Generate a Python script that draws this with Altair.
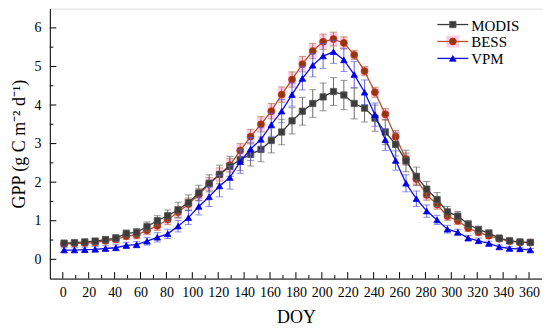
import altair as alt
import pandas as pd

doy = [1, 9, 17, 25, 33, 41, 49, 57, 65, 73, 81, 89, 97, 105, 113, 121, 129, 137, 145, 153,
       161, 169, 177, 185, 193, 201, 209, 217, 225, 233, 241, 249, 257, 265, 273, 281, 289,
       297, 305, 313, 321, 329, 337, 345, 353, 361]

modis = [0.42, 0.43, 0.45, 0.47, 0.51, 0.55, 0.67, 0.70, 0.85, 1.00, 1.13, 1.28, 1.47, 1.72,
         1.97, 2.20, 2.41, 2.58, 2.72, 2.85, 3.08, 3.30, 3.59, 3.84, 4.04, 4.21, 4.35, 4.26,
         4.04, 3.92, 3.66, 3.30, 2.98, 2.55, 2.15, 1.82, 1.55, 1.23, 1.12, 0.91, 0.77, 0.68,
         0.55, 0.48, 0.45, 0.44]
modis_err = [0.06, 0.06, 0.07, 0.08, 0.08, 0.09, 0.09, 0.10, 0.12, 0.13, 0.15, 0.20, 0.20, 0.20,
             0.22, 0.24, 0.26, 0.28, 0.30, 0.32, 0.32, 0.33, 0.34, 0.36, 0.36, 0.36, 0.36, 0.38,
             0.40, 0.36, 0.34, 0.32, 0.30, 0.28, 0.24, 0.20, 0.18, 0.14, 0.12, 0.10, 0.09, 0.08,
             0.07, 0.06, 0.05, 0.05]

bess = [0.40, 0.41, 0.42, 0.44, 0.48, 0.52, 0.60, 0.63, 0.75, 0.87, 1.03, 1.22, 1.43, 1.68,
        1.95, 2.20, 2.44, 2.82, 3.18, 3.50, 3.84, 4.27, 4.66, 5.06, 5.40, 5.64, 5.71, 5.61,
        5.30, 4.88, 4.33, 3.76, 3.18, 2.60, 2.08, 1.67, 1.42, 1.12, 1.00, 0.81, 0.70, 0.61,
        0.53, 0.47, 0.44, 0.43]
bess_err = [0.06, 0.06, 0.07, 0.08, 0.08, 0.09, 0.09, 0.10, 0.11, 0.12, 0.13, 0.15, 0.16, 0.16,
            0.17, 0.17, 0.18, 0.18, 0.19, 0.20, 0.20, 0.20, 0.20, 0.20, 0.20, 0.20, 0.18, 0.16,
            0.12, 0.12, 0.13, 0.15, 0.16, 0.16, 0.15, 0.14, 0.12, 0.11, 0.10, 0.09, 0.08, 0.07,
            0.06, 0.06, 0.05, 0.05]

vpm = [0.24, 0.24, 0.25, 0.26, 0.28, 0.30, 0.36, 0.38, 0.47, 0.57, 0.66, 0.86, 1.08, 1.37,
       1.62, 1.90, 2.12, 2.53, 2.86, 3.11, 3.49, 3.84, 4.27, 4.69, 5.03, 5.27, 5.38, 5.17,
       4.79, 4.33, 3.75, 3.10, 2.56, 1.97, 1.57, 1.25, 1.02, 0.78, 0.70, 0.55, 0.48, 0.41,
       0.32, 0.28, 0.27, 0.24]
vpm_err = [0.06, 0.06, 0.07, 0.07, 0.07, 0.08, 0.08, 0.08, 0.10, 0.12, 0.12, 0.15, 0.18, 0.22,
           0.25, 0.28, 0.30, 0.30, 0.30, 0.30, 0.30, 0.30, 0.30, 0.30, 0.30, 0.32, 0.30, 0.30,
           0.34, 0.32, 0.30, 0.28, 0.25, 0.22, 0.20, 0.16, 0.12, 0.10, 0.08, 0.07, 0.07, 0.06,
           0.05, 0.05, 0.04, 0.04]

x_major = [0, 20, 40, 60, 80, 100, 120, 140, 160, 180, 200, 220, 240, 260, 280, 300, 320, 340, 360]
x_minor = [10, 30, 50, 70, 90, 110, 130, 150, 170, 190, 210, 230, 250, 270, 290, 310, 330, 350]
y_major = [0, 1, 2, 3, 4, 5, 6]
y_minor = [0.5, 1.5, 2.5, 3.5, 4.5, 5.5]

W, H = 494, 271
FONT = "Liberation Serif"
YTITLE = "GPP (g C m\u207b\u00b2 d\u207b\u00b9)"

xs = alt.Scale(domain=[-10, 370], nice=False, zero=False)
ys = alt.Scale(domain=[-0.5, 6.5], nice=False, zero=False)

XAX = alt.Axis(values=x_major, ticks=False, labelPadding=7, labelFont=FONT, labelFontSize=14,
               labelColor="black", title="DOY", titleFont=FONT, titleFontSize=18,
               titleFontWeight="normal", titleColor="black", titlePadding=9,
               domainColor="black", grid=False, labelFlush=False)
YAX = alt.Axis(values=y_major, ticks=False, labelPadding=9, labelFont=FONT, labelFontSize=14,
               labelColor="black", title=YTITLE, titleFont=FONT,
               titleFontSize=18, titleFontWeight="normal", titleColor="black", titlePadding=5,
               domainColor="black", grid=False, labelFlush=False)


def X(f):
    return alt.X(f, scale=xs, axis=XAX, title="DOY")


def Y(f):
    return alt.Y(f, scale=ys, axis=YAX, title=YTITLE)


series = [
    dict(name="MODIS", vals=modis, err=modis_err, line="#3a3a3a", fill="#3c3c3c",
         stroke="#555555", shape="square", size=40, ecol="#6a6a6a"),
    dict(name="BESS", vals=bess, err=bess_err, line="#b0522a", fill="#8b3a0f",
         stroke="#e02a1a", shape="circle", size=48, ecol="#b07a5a"),
    dict(name="VPM", vals=vpm, err=vpm_err, line="#1010e0", fill="#0000e6",
         stroke="#0000e6", shape="triangle-up", size=42, ecol="#6060e0"),
]


def frame(s):
    df = pd.DataFrame({"doy": doy, "v": s["vals"], "e": s["err"]})
    df["lo"] = df["v"] - df["e"]
    df["hi"] = df["v"] + df["e"]
    df["x0"] = df["doy"] - 3
    df["x1"] = df["doy"] + 3
    return df


layers = []


def xticks(vals, ln):
    return alt.Chart(pd.DataFrame({"t": vals})).mark_rule(color="black", strokeWidth=1).encode(
        x=X("t:Q"), y=alt.value(H), y2=alt.value(H - ln))


def yticks(vals, ln):
    return alt.Chart(pd.DataFrame({"t": vals})).mark_rule(color="black", strokeWidth=1).encode(
        y=Y("t:Q"), x=alt.value(0), x2=alt.value(ln))


layers += [xticks(x_major, 6.5), xticks(x_minor, 3.5), yticks(y_major, 6.5), yticks(y_minor, 3.5)]

# BESS pink boxes
bdf = frame(series[1])
layers.append(
    alt.Chart(bdf).mark_rect(color="#ff9ecb", opacity=0.5).encode(
        x=X("x0:Q"), x2="x1:Q", y=Y("lo:Q"), y2="hi:Q")
)

for s in [series[1], series[0], series[2]]:
    df = frame(s)
    layers.append(alt.Chart(df).mark_rule(color=s["ecol"], strokeWidth=1).encode(
        x=X("doy:Q"), y=Y("lo:Q"), y2="hi:Q"))
    for c in ["lo", "hi"]:
        layers.append(alt.Chart(df).mark_tick(color=s["ecol"], orient="horizontal", size=7,
                                              thickness=1).encode(
            x=X("doy:Q"), y=Y(f"{c}:Q")))
    layers.append(alt.Chart(df).mark_line(color=s["line"], strokeWidth=1.3).encode(
        x=X("doy:Q"), y=Y("v:Q")))
    layers.append(alt.Chart(df).mark_point(shape=s["shape"], filled=True, size=s["size"],
                                           fill=s["fill"], stroke=s["stroke"], strokeWidth=0.8,
                                           opacity=1).encode(
        x=X("doy:Q"), y=Y("v:Q")))

# manual legend
for i, s in enumerate(series):
    yy = 16 + 17 * i
    ldf = pd.DataFrame({"name": [s["name"]]})
    if s["name"] == "BESS":
        layers.append(alt.Chart(ldf).mark_rect(color="#ff9ecb", opacity=0.5).encode(
            x=alt.value(398), x2=alt.value(411), y=alt.value(yy - 6), y2=alt.value(yy + 6)))
    layers.append(alt.Chart(ldf).mark_rule(color=s["line"], strokeWidth=1.3).encode(
        x=alt.value(389), x2=alt.value(420), y=alt.value(yy)))
    layers.append(alt.Chart(ldf).mark_point(shape=s["shape"], filled=True, size=s["size"],
                                            fill=s["fill"], stroke=s["stroke"], strokeWidth=0.8,
                                            opacity=1).encode(
        x=alt.value(404.5), y=alt.value(yy)))
    layers.append(alt.Chart(ldf).mark_text(align="left", baseline="middle", font=FONT,
                                           fontSize=15, color="black").encode(
        x=alt.value(423), y=alt.value(yy + 1), text="name:N"))

chart = alt.layer(*layers).properties(
    width=W, height=H,
    padding={"left": 42, "top": 0, "right": 0, "bottom": 51},
    autosize=alt.AutoSizeParams(type="none"),
).configure_view(stroke="#333333", strokeWidth=1.2).configure(background="white")

chart.save("out.html", embed_options={"renderer": "svg", "actions": False})
